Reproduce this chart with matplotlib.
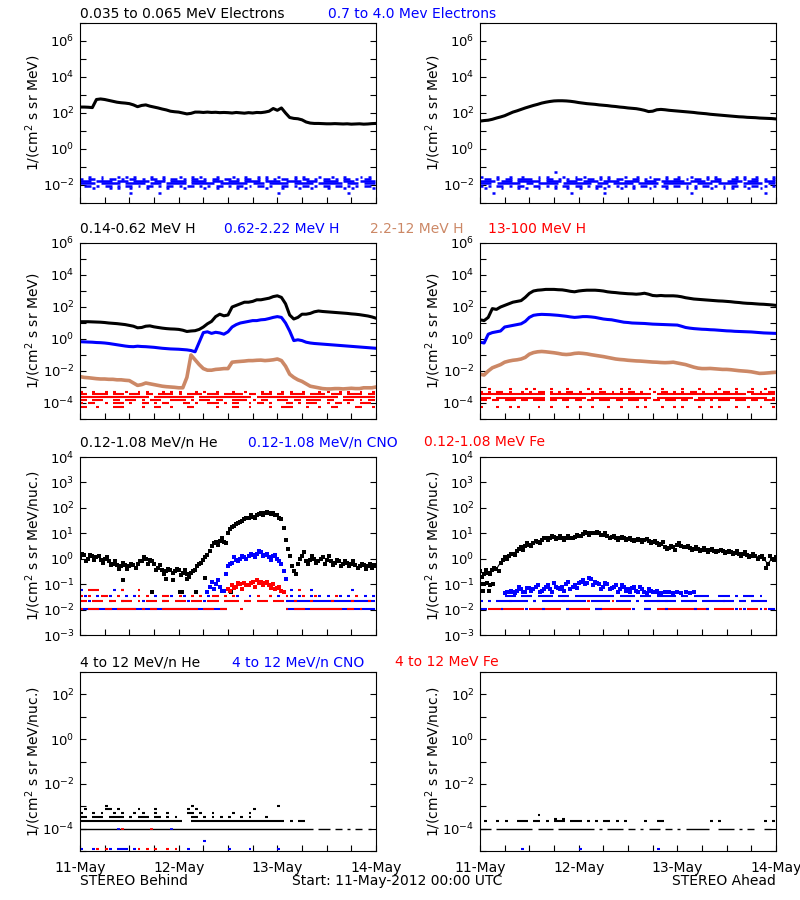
import numpy as np
import matplotlib
matplotlib.use('Agg')
import matplotlib.pyplot as plt
from matplotlib.ticker import FixedLocator, LogFormatterSciNotation, NullFormatter

BLUE = '#0000ff'
RED = '#ff0000'
BROWN = '#cc8866'

# tiempo en horas desde 11-May 00:00, valores en log10
dias = ['11-May', '12-May', '13-May', '14-May']

# ---- fila 1: electrones
ele_behind = [2.33, 2.33, 2.32, 2.3, 2.75, 2.78, 2.75, 2.7, 2.65, 2.6, 2.57, 2.55, 2.52, 2.45, 2.35,
              2.42, 2.45, 2.38, 2.33, 2.28, 2.22, 2.17, 2.1, 2.07, 2.05, 2.0, 1.95, 1.98, 2.05, 2.05,
              2.03, 2.05, 2.03, 2.04, 2.02, 2.03, 2.02, 2.0, 2.03, 2.01, 1.99, 2.02, 2.0, 2.03, 2.02,
              2.05, 2.1, 2.25, 2.15, 2.28, 2.0, 1.75, 1.7, 1.68, 1.62, 1.5, 1.44, 1.42, 1.42, 1.41,
              1.4, 1.4, 1.41, 1.4, 1.39, 1.4, 1.38, 1.39, 1.4, 1.38, 1.39, 1.41, 1.42]
ele_ahead = [1.55, 1.58, 1.6, 1.65, 1.72, 1.78, 1.85, 1.95, 2.05, 2.12, 2.2, 2.28, 2.35, 2.42, 2.48,
             2.55, 2.6, 2.64, 2.67, 2.68, 2.68, 2.67, 2.65, 2.62, 2.58, 2.55, 2.52, 2.5, 2.48, 2.45,
             2.43, 2.41, 2.38, 2.36, 2.33, 2.31, 2.28, 2.26, 2.24, 2.2, 2.15, 2.08, 2.1, 2.18, 2.2,
             2.18, 2.15, 2.13, 2.11, 2.09, 2.07, 2.05, 2.03, 2.0, 1.98, 1.96, 1.93, 1.91, 1.89, 1.87,
             1.85, 1.83, 1.81, 1.79, 1.78, 1.76, 1.75, 1.74, 1.72, 1.71, 1.7, 1.69, 1.67]

ele_hi_lv = [-1.55, -1.67, -1.79, -1.91, -2.03, -2.15, -2.45]
ele_hi_behind = ["..#..#...#.# .#...#..#... #..#.#...#.. .#..#..#.#.. #...#.#...#. .#..#...#.#.",
                 "#.##.#.##.#. ##.#.##.#.## .#.##.#.##.# #.#.##.#.#.# .##.#.##.#.# #.#.##.#.##.",
                 "###.####.### .####.###.## ##.####.###. ###.####.### #.####.###.# ###.###.####",
                 "####.#####.# ####.###.### ##.######.## #####.###.## ###.#####.## ####.###.###",
                 ".##.#.##.#.# #.#.##.#.##. #.##.#.#.##. #.##.#.##.#. .##.#.##.#.# #.##.#.#.##.",
                 "...#...#.#.. #...#....#.. .#....#..#.. ..#.#....#.. .#...#..#... #...#.#....#",
                 "............ #......#.... ............ ............ #........... .....#......"]
ele_hi_ahead = ["#...#..#..#. ..#.#...#..# .#...#.#...# ..#..#...#.. #..#...#.#.. ..#.#..#...#",
                ".##.#.##.### #.#.##.#.#.# #.##.#.#.##. .##.#.##.#.# #.#.##.#.##. .##.#.##.#.#",
                "####.###.### ###.####.### .####.####.# ###.###.#### ##.####.###. ####.###.###",
                "###.######.# #.#####.### ####.###.### ##.#####.### ####.####.## ###.#####.##",
                "#.#.##.#.##. .##.#.#.##.# #.#.##.#.#.# .#.##.#.##.# #.#.#.##.#.# .##.#.##.#.#",
                ".#...#...#.# ..#...#..#.. #...#.#...#. .#...#...#.. ..#.#...#..# .#...#..#...",
                "...#........ ..........#. ......#..... ............ ...#........ .........#.."]
ele_hi_ahead_top = "............ ......#..... ............ ............ ............ ............"

# ---- fila 2: protones
hp_b_low = [1.08, 1.08, 1.08, 1.07, 1.06, 1.05, 1.03, 1.0, 0.98, 0.96, 0.93, 0.9, 0.85, 0.8, 0.7,
            0.72, 0.8, 0.82, 0.76, 0.72, 0.68, 0.65, 0.63, 0.62, 0.6, 0.55, 0.47, 0.5, 0.52, 0.6,
            0.75, 0.95, 1.1, 1.4, 1.55, 1.45, 1.5, 2.0, 2.1, 2.2, 2.3, 2.3, 2.35, 2.45, 2.45,
            2.5, 2.55, 2.65, 2.7, 2.6, 2.2, 1.5, 1.25, 1.35, 1.55, 1.55, 1.6, 1.7, 1.75, 1.72,
            1.7, 1.68, 1.66, 1.64, 1.62, 1.6, 1.57, 1.55, 1.52, 1.48, 1.44, 1.38, 1.3]
hp_b_mid = [-0.17, -0.18, -0.19, -0.2, -0.22, -0.23, -0.25, -0.28, -0.32, -0.36, -0.4, -0.44, -0.47,
            -0.48, -0.45, -0.47, -0.48, -0.5, -0.52, -0.55, -0.58, -0.6, -0.62, -0.63, -0.64, -0.66,
            -0.68, -0.72, -0.8, -0.2, 0.4, 0.45, 0.35, 0.42, 0.38, 0.3, 0.45, 0.75, 0.9, 1.0, 1.05,
            1.1, 1.15, 1.15, 1.2, 1.22, 1.28, 1.35, 1.4, 1.35, 1.0, 0.5, -0.1, -0.05, -0.1, -0.2,
            -0.25, -0.28, -0.3, -0.32, -0.34, -0.36, -0.38, -0.4, -0.42, -0.44, -0.46, -0.48, -0.5,
            -0.52, -0.54, -0.56, -0.58]
hp_b_high = [-2.35, -2.4, -2.42, -2.45, -2.48, -2.5, -2.5, -2.52, -2.52, -2.55, -2.55, -2.58, -2.6,
             -2.75, -2.9, -2.85, -2.75, -2.8, -2.85, -2.9, -2.95, -2.98, -3.0, -3.02, -3.05, -3.05,
             -2.4, -1.0, -1.3, -1.6, -1.85, -1.95, -1.95, -1.9, -1.88, -1.85, -1.85, -1.45, -1.42,
             -1.4, -1.38, -1.35, -1.35, -1.33, -1.32, -1.35, -1.33, -1.3, -1.25, -1.35, -1.7, -2.2,
             -2.4, -2.55, -2.65, -2.8, -2.95, -3.0, -3.05, -3.1, -3.12, -3.12, -3.1, -3.1, -3.12,
             -3.1, -3.08, -3.1, -3.1, -3.05, -3.05, -3.05, -3.0]
hp_a_low = [1.2, 1.15, 1.35, 1.9, 1.85, 2.0, 2.1, 2.2, 2.3, 2.35, 2.4, 2.6, 2.85, 3.0, 3.05, 3.07,
            3.1, 3.1, 3.1, 3.08, 3.07, 3.03, 2.98, 2.95, 3.0, 3.03, 3.05, 3.05, 3.05, 3.03, 3.0,
            2.95, 2.92, 2.9, 2.87, 2.85, 2.83, 2.82, 2.8, 2.82, 2.86, 2.8, 2.72, 2.7, 2.72, 2.7,
            2.7, 2.7, 2.68, 2.64, 2.58, 2.54, 2.5, 2.48, 2.46, 2.44, 2.42, 2.4, 2.38, 2.37, 2.35,
            2.33, 2.3, 2.28, 2.25, 2.23, 2.22, 2.2, 2.18, 2.17, 2.15, 2.13, 2.1]
hp_a_mid = [-0.2, -0.25, 0.3, 0.4, 0.45, 0.5, 0.75, 0.8, 0.85, 0.9, 0.95, 1.1, 1.35, 1.48, 1.52,
            1.54, 1.53, 1.52, 1.5, 1.48, 1.45, 1.42, 1.38, 1.35, 1.37, 1.4, 1.4, 1.38, 1.35, 1.3,
            1.25, 1.22, 1.2, 1.15, 1.1, 1.05, 1.03, 1.0, 0.99, 0.98, 0.97, 0.95, 0.93, 0.92, 0.91,
            0.9, 0.89, 0.88, 0.87, 0.8, 0.72, 0.68, 0.65, 0.63, 0.61, 0.6, 0.58, 0.57, 0.55, 0.53,
            0.51, 0.5, 0.48, 0.47, 0.46, 0.45, 0.44, 0.42, 0.4, 0.38, 0.37, 0.36, 0.35]
hp_a_high = [-2.2, -2.25, -2.0, -1.8, -1.7, -1.6, -1.45, -1.38, -1.33, -1.3, -1.25, -1.15, -0.95,
             -0.85, -0.8, -0.78, -0.8, -0.83, -0.86, -0.9, -0.95, -0.97, -0.95, -0.9, -0.88, -0.9,
             -0.93, -0.98, -1.02, -1.06, -1.1, -1.15, -1.2, -1.25, -1.28, -1.3, -1.33, -1.35, -1.37,
             -1.38, -1.4, -1.42, -1.44, -1.45, -1.47, -1.48, -1.47, -1.45, -1.5, -1.55, -1.6, -1.68,
             -1.76, -1.82, -1.85, -1.85, -1.84, -1.86, -1.88, -1.9, -1.9, -1.92, -1.95, -1.98, -2.0,
             -2.02, -2.05, -2.1, -2.15, -2.14, -2.12, -2.1, -2.08]

hp_top_b_lv = [-3.3, -3.45, -3.6, -3.8, -3.98, -4.23]
hp_top_b = ["#..#..#.#..# ..#.#...#.#. #...#.#..#.. .#..#...#.#. .#.#..#...#. #..#.#..#..#",
            "##.####.###. ###.##.####. #.####.###.# ####.##.###. ##.####.#### .###.####.##",
            "############ #####.###### ####.####### ######.##### ############ ###.########",
            "##.###..##.# ##.#.###..## ##.#.###.##. .####.#.##.. ###.##.####. ##..###.#.##",
            "#.##..#.###. #..##.#.##.. .##.#..###.# .##..#.##.#. ..##.#.###.. #.##.#..###.",
            "##..#...###. ...#..##..#. ..##.....#.. .##..#....#. .###...#..#. .##....##..#"]
hp_top_a_lv = [-3.15, -3.3, -3.42, -3.67, -3.82, -4.23]
hp_top_a = ["..#....#...# .#...#...#.. ..#..#....#. #....#..#... .#...#....#. ..#...#..#..",
            "#.#.##.#..#. #.##.#.#.##. #..#.##.#.#. ##.#..#.##.# .#.##.#..#.# #.#..##.#.##",
            "############ ####.####### ############ ######.##### ############ #####.######",
            "###.######## ####.####### ##.######### ######.##### ####.####### ##########.#",
            "##.##.###.## .###.##.##.# #.##.###.##. ###.#.##.### .##.###.#.## #.###.##.###",
            "#...#..#.#.. ..#..#...#.. #..#...#..#. ..#.#...#..# .#...#..#.#. ..#..#..#..#"]

# ---- fila 3: iones 0.12-1.08 MeV/n
he_b = [0.05, 0.15, 0.0, 0.1, 0.05, -0.05, 0.0, -0.1, -0.2, -0.25,
        -0.3, -0.25, -0.3, -0.25, -0.2, -0.1, 0.0, -0.05, -0.2, -0.35,
        -0.45, -0.5, -0.45, -0.5, -0.45, -0.55, -0.6, -0.55, -0.45, -0.2,
        -0.05, 0.15, 0.5, 0.65, 0.7, 0.65, 1.0, 1.25, 1.35, 1.45,
        1.55, 1.6, 1.65, 1.7, 1.78, 1.8, 1.8, 1.78, 1.7, 1.55,
        0.75, 0.1, -0.5, -0.2, 0.1, -0.1, -0.05, 0.0, -0.1, 0.05,
        -0.05, -0.1, -0.15, -0.1, -0.2, -0.15, -0.2, -0.25, -0.3, -0.25,
        -0.3, -0.35, -0.3]
he_b_half = [0.2, -0.1, 0.15, -0.05, 0.1, -0.15, 0.05, -0.25, -0.1, -0.4,
             -0.15, -0.4, -0.2, -0.35, -0.1, 0.05, -0.2, -0.1, -0.45, -0.25,
             -0.6, -0.4, -0.55, -0.4, -0.65, -0.45, -0.7, -0.5, -0.3, -0.15,
             0.05, 0.3, 0.6, 0.55, 0.8, 0.6, 1.15, 1.3, 1.4, 1.5,
             1.6, 1.7, 1.6, 1.75, 1.72, 1.85, 1.75, 1.7, 1.6, 1.2,
             0.4, -0.3, -0.6, 0.0, 0.25, -0.2, 0.1, -0.15, 0.0, -0.2,
             0.1, -0.25, -0.05, -0.3, -0.1, -0.3, -0.1, -0.35, -0.2, -0.4,
             -0.2, -0.25]
he_b_low_t = [10.5, 17.5, 21.0, 22.5, 24.3, 24.8, 26.0, 28.2, 30.5, 36.8]
he_b_low = [-0.85, -1.3, -0.8, -0.85, -1.3, -1.3, -0.8, -1.3, -0.75, -1.3]

cno_b_t = [31, 32, 33, 34, 35, 36, 37, 38, 39, 40, 41, 42, 43, 44, 45, 46, 47, 48, 49, 50]
cno_b = [-1.3, -0.9, -1.0, -1.1, -1.25, -0.3, -0.15, -0.05, 0.0, 0.05,
         0.1, 0.15, 0.2, 0.25, 0.15, 0.05, 0.1, 0.0, -0.2, -0.8]
cno_b_half = [-1.1, -1.2, -0.85, -1.25, -0.6, -0.2, 0.05, -0.1, 0.1, 0.0,
              0.2, 0.05, 0.3, 0.1, 0.2, -0.05, 0.15, -0.1, -0.5]
fe_b_t = [36, 37, 38, 39, 40, 41, 42, 43, 44, 45, 46, 47, 48, 49]
fe_b = [-1.2, -1.05, -1.1, -1.0, -0.95, -1.05, -0.9, -0.85, -0.9, -0.95, -1.05, -1.0, -1.15, -1.25]
fe_b_half = [-1.25, -1.15, -0.95, -1.2, -1.05, -0.95, -1.1, -0.95, -1.05, -0.9, -1.15, -1.2, -1.1, -1.3]

he_a = [-0.5, -0.6, -0.55, -0.45, -0.4, -0.15, 0.05, 0.1, 0.2, 0.3, 0.45, 0.5, 0.55, 0.6, 0.65,
        0.75, 0.8, 0.82, 0.85, 0.83, 0.82, 0.8, 0.82, 0.85, 0.9, 0.98, 1.0, 1.02, 1.03, 1.0,
        0.95, 0.9, 0.85, 0.83, 0.8, 0.8, 0.78, 0.75, 0.72, 0.72, 0.72, 0.7, 0.65, 0.6, 0.58,
        0.48, 0.42, 0.45, 0.55, 0.5, 0.45, 0.42, 0.4, 0.38, 0.36, 0.35, 0.33, 0.32, 0.3, 0.3,
        0.28, 0.25, 0.22, 0.2, 0.18, 0.15, 0.12, 0.1, 0.05, 0.0, -0.2, 0.0, 0.05]
he_a_half = [-0.7, -0.45, -0.6, -0.35, -0.5, -0.05, 0.0, 0.2, 0.15, 0.4,
             0.35, 0.6, 0.5, 0.7, 0.6, 0.8, 0.72, 0.9, 0.78, 0.88,
             0.75, 0.9, 0.8, 0.95, 0.88, 1.05, 0.95, 1.0, 1.07, 0.92,
             1.0, 0.82, 0.9, 0.75, 0.85, 0.72, 0.82, 0.68, 0.78, 0.65,
             0.78, 0.62, 0.7, 0.52, 0.65, 0.4, 0.5, 0.35, 0.6, 0.45,
             0.5, 0.35, 0.45, 0.3, 0.42, 0.28, 0.4, 0.25, 0.35, 0.22,
             0.32, 0.18, 0.3, 0.12, 0.25, 0.08, 0.2, 0.0, 0.1, -0.35,
             0.1, -0.05]
he_a_low_t = [0.3, 1.0, 1.7, 2.5, 3.2, 0.8, 2.2]
he_a_low = [-1.0, -1.0, -0.95, -1.05, -1.0, -1.25, -1.25]
cno_a = [-1.35, -1.3, -1.3, -1.25, -1.2, -1.3, -1.15, -1.2, -1.05, -1.25, -1.1, -1.2, -0.95,
         -1.15, -1.1, -1.0, -1.2, -1.05, -0.95, -0.85, -0.95, -0.8, -0.9, -1.0, -1.1, -1.0,
         -1.15, -1.05, -1.2, -1.1, -1.2, -1.15, -1.25, -1.1, -1.3, -1.2, -1.3, -1.25, -1.35,
         -1.3, -1.3, -1.35, -1.3, -1.35, -1.3, -1.35, -1.3]
cno_a_half = [-1.3, -1.25, -1.35, -1.1, -1.3, -1.15, -1.25, -1.1, -1.3, -1.2, -1.05, -1.3,
              -1.1, -1.2, -1.25, -0.9, -1.1, -1.15, -0.9, -1.0, -0.75, -1.05, -0.95, -1.2,
              -0.95, -1.2, -1.1, -1.3, -1.05, -1.25, -1.3, -1.1, -1.3, -1.2, -1.35, -1.25,
              -1.3, -1.35]

ion_lv = [-1.22, -1.45, -1.65, -1.98]
ion_b_blue = ["#.......#.#. ............ ............ ............ ...#....#... ......#.....",
              ".#..#..#...# .#....#...#. .#.....#.... ..#..#....#. #..#.#..#.#. #..#.#...#.#",
              "..#....#..#. ...#....#... ..#...#..... ............ ..########## ############",
              "############ ############ ############ ............ ..########## ############"]
ion_b_red = ["..###.....#. ..#......... ............ ............ .....#...... ............",
             "#.#..##..#.. ..#.#...##.. #..#.#..##.# .#.....#..#. ..#...#..#.. ..#....#....",
             "##.###.##.## #.#.###.##.# ##.###.###.# ###.##.###.# ##..#...#... .#....#...#.",
             "#.###.##.### ##.#.##.#### #####.###.## ...#........ ..#.###.#### ####.##.#..."]
ion_a_blue = ["............ ............ ............ ............ ............ ............",
              "......###.## #.####.###.# #########.## ##.###.##### .##.####..## #.#.###.#...",
              "#.#.######## .#.######### ##.#####.### #.#.######## .####.###### ##.##.####..",
              "##...#.....# ...#.....#.. ....##...... .#..##...#.. ....#..#.... ..#.#...#.##"]
ion_a_red = ["............ ............ ............ ............ ............ ............",
             "............ ............ ............ ............ ............ ............",
             ".......#.... .#......#... ..#.....#... .......#.#.. ...#.......# ......#.....",
             "..#########. ########.### ###.######## #...##.##### ########.### ##.#.###.#.."]

# ---- fila 4: iones 4-12 MeV/n
hv_b_lv = [-4.0, -3.68, -3.46, -3.3, -3.12, -3.0]
hv_b_black = ["############ ############ ############ ############ #########.## #.##.#.##.#.",
              "############ ############ #..######### ############ ##.#.##..... ............",
              "##.###.####. #.###.##.#.# ...##.#.#.#. #..#.#...#.. ............ ............",
              "#..#.#..#.#. .#.#..#..#.. ..##.#..#... .#...#...... ............ ............",
              ".#....##.#.. ..#...#..... ..#.#....... ......#..... ............ ............",
              "......#..... ............ ...#........ ............ #........... ............"]
hv_b_red_4 = "..........#. .....#...... ............ ............ ............ ............"
hv_b_blue_4 = ".........#.. ..........#. ............ ............ ............ ............"
hv_bot_lv = [-4.92, -4.57]
hv_b_blue_bot = ["#..#...#.### .#.......... ..#......... #....#...... #........... ............",
                 "............ ............ ......#..... ............ ............ ............"]
hv_b_red_bot = "....#.#..... ..#.#.#..#.# ............ ............ ............ ............"
hv_a_lv = [-4.0, -3.68, -3.55, -3.38]
hv_a_black = ["###.######## #.####.##### ####.#.####. ##.#.###.##. #.######..## ##.#.##..##.",
              ".#..#.#..### .##.#.###.## #.#.#.##.#.# ....#..##... ........#.#. .........#.#",
              "............ ......#.#... ............ ............ ............ ............",
              "............ ..#......... ............ ............ ............ ............"]
hv_a_blue_bot = "..........#. ............ #........... .......#.... ............ ............"


def rect(x0, y0, x1, y1):
    return [x0 / 800.0, 1 - y1 / 900.0, (x1 - x0) / 800.0, (y1 - y0) / 900.0]


def preparar(ax, lo, hi, paso, abajo=False):
    ax.set_yscale('log')
    ax.set_ylim(10.0 ** lo, 10.0 ** hi)
    ax.set_xlim(0, 72)
    mayores = [10.0 ** e for e in range(lo, hi + 1) if paso == 1 or e % 2 == 0]
    menores = [10.0 ** e for e in range(lo, hi + 1) if paso == 2 and e % 2 != 0]
    ax.yaxis.set_major_locator(FixedLocator(mayores))
    ax.yaxis.set_minor_locator(FixedLocator(menores))
    ax.yaxis.set_major_formatter(LogFormatterSciNotation())
    ax.yaxis.set_minor_formatter(NullFormatter())
    ax.set_xticks([0, 24, 48, 72])
    ax.set_xticks(np.arange(0, 73, 6), minor=True)
    ax.tick_params(which='both', direction='in', length=4.5, width=0.8, top=False, right=True,
                   labelsize=9.5, colors='black')
    ax.tick_params(axis='y', pad=4)
    if abajo:
        ax.set_xticklabels(dias)
        ax.tick_params(axis='x', pad=7, labelsize=10)
    else:
        ax.set_xticklabels([])
    for s in ax.spines.values():
        s.set_linewidth(0.8)


def linea(ax, vals, color, lw=2.2):
    t = np.arange(len(vals))
    ax.plot(t, 10.0 ** np.array(vals), color=color, lw=lw)


def puntos(ax, t, vals, color, ms=2.0):
    ax.plot(t, 10.0 ** np.asarray(vals), 's', color=color, ms=ms, mew=0, ls='none')


def filas(ax, niveles, patrones, color, lw=1.5):
    for lv, pat in zip(niveles, patrones):
        pat = pat.replace(' ', '')
        w = 72.0 / len(pat)
        i = 0
        while i < len(pat):
            if pat[i] == '#':
                j = i
                while j < len(pat) and pat[j] == '#':
                    j += 1
                ax.hlines(10.0 ** lv, i * w, j * w - 0.3 * w, colors=color, lw=lw)
                i = j
            else:
                i += 1


fig = plt.figure(figsize=(8, 9), dpi=100)
fig.patch.set_facecolor('white')

cols = [(80, 376), (480, 776)]
filas_px = [(23, 203), (243, 419), (457, 635), (672, 851)]
rangos = [(-3, 7, 2), (-5, 6, 2), (-3, 4, 1), (-5, 3, 2)]
ejes = []
for r, (y0, y1) in enumerate(filas_px):
    fila = []
    for (x0, x1) in cols:
        ax = fig.add_axes(rect(x0, y0, x1, y1))
        preparar(ax, rangos[r][0], rangos[r][1], rangos[r][2], abajo=(r == 3))
        fila.append(ax)
    ejes.append(fila)

# fila 1
ax = ejes[0][0]
linea(ax, ele_behind, 'black')
filas(ax, ele_hi_lv, ele_hi_behind, BLUE, lw=1.8)
ax = ejes[0][1]
linea(ax, ele_ahead, 'black')
filas(ax, ele_hi_lv, ele_hi_ahead, BLUE, lw=1.8)
filas(ax, [-1.28], [ele_hi_ahead_top], BLUE, lw=1.8)

# fila 2
ax = ejes[1][0]
filas(ax, hp_top_b_lv, hp_top_b, RED)
linea(ax, hp_b_high, BROWN, lw=2.6)
linea(ax, hp_b_mid, BLUE)
linea(ax, hp_b_low, 'black')
ax = ejes[1][1]
filas(ax, hp_top_a_lv, hp_top_a, RED)
linea(ax, hp_a_high, BROWN, lw=2.6)
linea(ax, hp_a_mid, BLUE)
linea(ax, hp_a_low, 'black')

# fila 3
ax = ejes[2][0]
filas(ax, ion_lv, ion_b_blue, BLUE)
filas(ax, ion_lv, ion_b_red, RED)
puntos(ax, np.arange(len(he_b)), he_b, 'black', ms=2.5)
puntos(ax, 0.5 + np.arange(len(he_b_half)), he_b_half, 'black', ms=2.5)
puntos(ax, he_b_low_t, he_b_low, 'black', ms=2.5)
puntos(ax, cno_b_t, cno_b, BLUE, ms=2.5)
puntos(ax, 31.5 + np.arange(len(cno_b_half)), cno_b_half, BLUE, ms=2.5)
puntos(ax, fe_b_t, fe_b, RED, ms=2.5)
puntos(ax, 36.5 + np.arange(len(fe_b_half)), fe_b_half, RED, ms=2.5)
ax = ejes[2][1]
filas(ax, ion_lv, ion_a_red, RED)
filas(ax, ion_lv, ion_a_blue, BLUE)
puntos(ax, 6 + np.arange(len(cno_a)), cno_a, BLUE, ms=2.5)
puntos(ax, 6.5 + np.arange(len(cno_a_half)), cno_a_half, BLUE, ms=2.5)
linea(ax, he_a, 'black', lw=0.8)
puntos(ax, np.arange(len(he_a)), he_a, 'black', ms=2.5)
puntos(ax, 0.5 + np.arange(len(he_a_half)), he_a_half, 'black', ms=2.5)
puntos(ax, he_a_low_t, he_a_low, 'black', ms=2.5)

# fila 4
ax = ejes[3][0]
filas(ax, hv_b_lv[:1], hv_b_black[:1], 'black', lw=1.0)
filas(ax, hv_b_lv[1:], hv_b_black[1:], 'black', lw=1.5)
filas(ax, [-4.0], [hv_b_red_4], RED, lw=1.2)
filas(ax, [-4.0], [hv_b_blue_4], BLUE, lw=1.2)
filas(ax, hv_bot_lv, hv_b_blue_bot, BLUE)
filas(ax, hv_bot_lv[:1], [hv_b_red_bot], RED)
ax = ejes[3][1]
filas(ax, hv_a_lv[:1], hv_a_black[:1], 'black', lw=1.0)
filas(ax, hv_a_lv[1:], hv_a_black[1:], 'black', lw=1.5)
filas(ax, hv_bot_lv[:1], [hv_a_blue_bot], BLUE)


def texto(x, y, s, color='black', ha='left'):
    fig.text(x / 800.0, 1 - y / 900.0, s, color=color, ha=ha, va='baseline', fontsize=10)


texto(80, 18, '0.035 to 0.065 MeV Electrons')
texto(328, 18, '0.7 to 4.0 Mev Electrons', BLUE)
texto(80, 233, '0.14-0.62 MeV H')
texto(224, 233, '0.62-2.22 MeV H', BLUE)
texto(370, 233, '2.2-12 MeV H', BROWN)
texto(488, 233, '13-100 MeV H', RED)
texto(80, 446, '0.12-1.08 MeV/n He')
texto(248, 446, '0.12-1.08 MeV/n CNO', BLUE)
texto(424, 446, '0.12-1.08 MeV Fe', RED)
texto(80, 666, '4 to 12 MeV/n He')
texto(232, 666, '4 to 12 MeV/n CNO', BLUE)
texto(395, 666, '4 to 12 MeV Fe', RED)
texto(80, 885, 'STEREO Behind')
texto(292, 885, 'Start: 11-May-2012 00:00 UTC')
texto(776, 885, 'STEREO Ahead', ha='right')

etiquetas = [r'1/(cm$^2$ s sr MeV)', r'1/(cm$^2$ s sr MeV)',
             r'1/(cm$^2$ s sr MeV/nuc.)', r'1/(cm$^2$ s sr MeV/nuc.)']
for r, (y0, y1) in enumerate(filas_px):
    for xc in (33, 433):
        fig.text(xc / 800.0, 1 - (y0 + y1) / 2.0 / 900.0, etiquetas[r], rotation=90,
                 ha='center', va='center', fontsize=10)

fig.savefig('out.png', dpi=100, facecolor='white')
